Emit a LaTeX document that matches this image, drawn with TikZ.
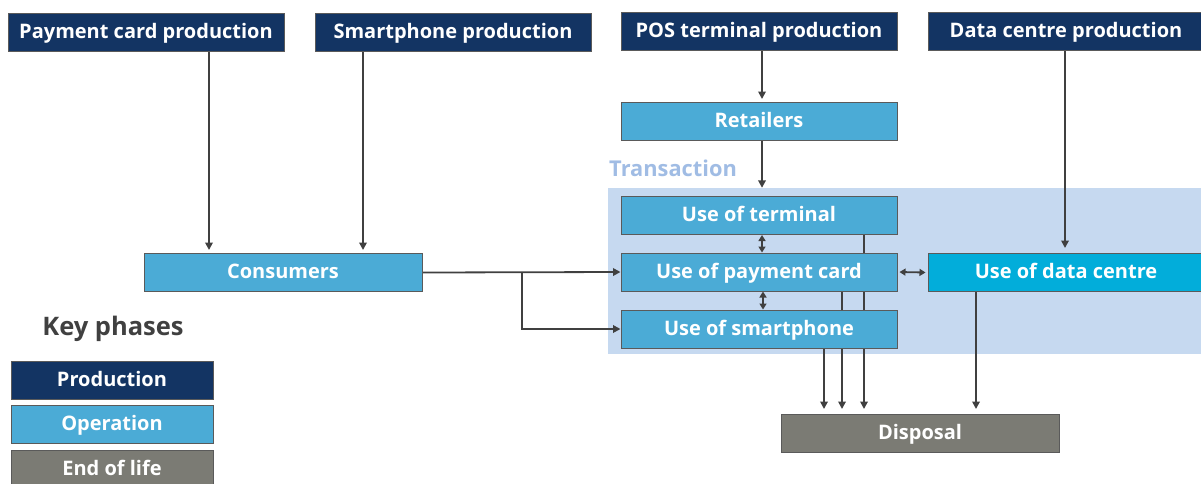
\documentclass[tikz,border=0pt]{standalone}
\usepackage{fontspec}
\setmainfont{Open Sans}
\usetikzlibrary{arrows.meta}

\definecolor{prodblue}{HTML}{133463}
\definecolor{opblue}{HTML}{4BABD6}
\definecolor{dcblue}{HTML}{02ADDA}
\definecolor{eolgrey}{HTML}{7B7B74}
\definecolor{transbg}{HTML}{C6D9F0}
\definecolor{translabel}{HTML}{A0BCE4}
\definecolor{linegrey}{HTML}{404040}
\definecolor{edgegrey}{HTML}{5A5A5A}
\definecolor{keytext}{HTML}{404040}

\pgfdeclarelayer{zone}
\pgfdeclarelayer{links}
\pgfsetlayers{zone,links,main}

\begin{document}
\begin{tikzpicture}[x=1pt,y=-1pt,
  box/.style={draw=edgegrey, line width=1pt, minimum width=276pt,
    minimum height=38pt, inner sep=0pt, text=white,
    text height=14.3pt, text depth=2.2pt,
    font=\fontsize{20}{22}\selectfont\bfseries},
  prod/.style={box, fill=prodblue},
  oper/.style={box, fill=opblue},
  dcbox/.style={box, fill=dcblue},
  eol/.style={box, fill=eolgrey},
  keybox/.style={minimum width=202pt},
  arr/.style={draw=linegrey, line width=1.8pt,
    -{Triangle[length=7.5pt,width=7.5pt]}},
  darr/.style={draw=linegrey, line width=1.8pt,
    {Triangle[length=6pt,width=7pt]}-{Triangle[length=6pt,width=7pt]}},
]
\useasboundingbox (0,0) rectangle (1201,483);

% production row
\node[prod] (pcp) at (146,32.5) {Payment card production};
\node[prod] (spp) at (453,32.5) {Smartphone production};
\node[prod] (pos) at (759,31.5) {POS terminal production};
\node[prod] (dcp) at (1066,31.5) {Data centre production};

% operation boxes
\node[oper] (ret) at (759,121.5) {Retailers};
\node[oper, minimum width=278pt] (cons) at (283,272.5) {Consumers};
\node[oper] (term) at (759,215.5) {Use of terminal};
\node[oper] (card) at (759,272) {Use of payment card};
\node[oper] (phone) at (759,329) {Use of smartphone};
\node[dcbox] (dc) at (1066,272.5) {Use of data centre};

% end of life
\node[eol, minimum width=278pt] (disp) at (920,433.5) {Disposal};

% transaction zone
\begin{pgfonlayer}{zone}
  \node[fill=transbg, inner sep=0pt, minimum width=602pt,
    minimum height=166pt] (trans) at (909,271) {};
\end{pgfonlayer}
\node[anchor=west, inner sep=0pt, text=translabel,
  font=\fontsize{21.8}{24}\selectfont\bfseries] (translbl) at (609,168) {Transaction};

% connectors
\coordinate (split) at (522,272.5);
\begin{pgfonlayer}{links}
  \draw[arr, shorten >=3pt] (209,0 |- pcp.south) -- (209,0 |- cons.north);
  \draw[arr, shorten >=3pt] (363,0 |- spp.south) -- (363,0 |- cons.north);
  \draw[arr, shorten >=3pt] (762,0 |- pos.south) -- (762,0 |- ret.north);
  \draw[arr] (762,0 |- ret.south) -- (762,0 |- trans.north);
  \draw[arr, shorten >=5pt] (1065,0 |- dcp.south) -- (1065,0 |- dc.north);
  \draw[arr] (cons.east) -- (card.west);
  \draw[arr] (split) |- (phone.west);
  \draw[darr] (762,0 |- term.south) -- (762,0 |- card.north);
  \draw[darr] (763,0 |- card.south) -- (763,0 |- phone.north);
  \draw[darr] (card.east) ++(2,0) -- ([xshift=-2pt]dc.west);
  \draw[arr, shorten >=5pt] (864,0 |- term.south) -- (864,0 |- disp.north);
  \draw[arr, shorten >=5pt] (842,0 |- card.south) -- (842,0 |- disp.north);
  \draw[arr, shorten >=5pt] (824,0 |- phone.south) -- (824,0 |- disp.north);
  \draw[arr, shorten >=5pt] (976,0 |- dc.south) -- (976,0 |- disp.north);
\end{pgfonlayer}

% key
\node[text=keytext, font=\fontsize{25.5}{28}\selectfont\bfseries] (keytitle)
  at (113,329) {Key phases};
\node[prod, keybox] (kprod) at (112,380.5) {Production};
\node[oper, keybox] (kop) at (112,424.5) {Operation};
\node[eol, keybox] (keol) at (112,469.5) {End of life};
\end{tikzpicture}
\end{document}
